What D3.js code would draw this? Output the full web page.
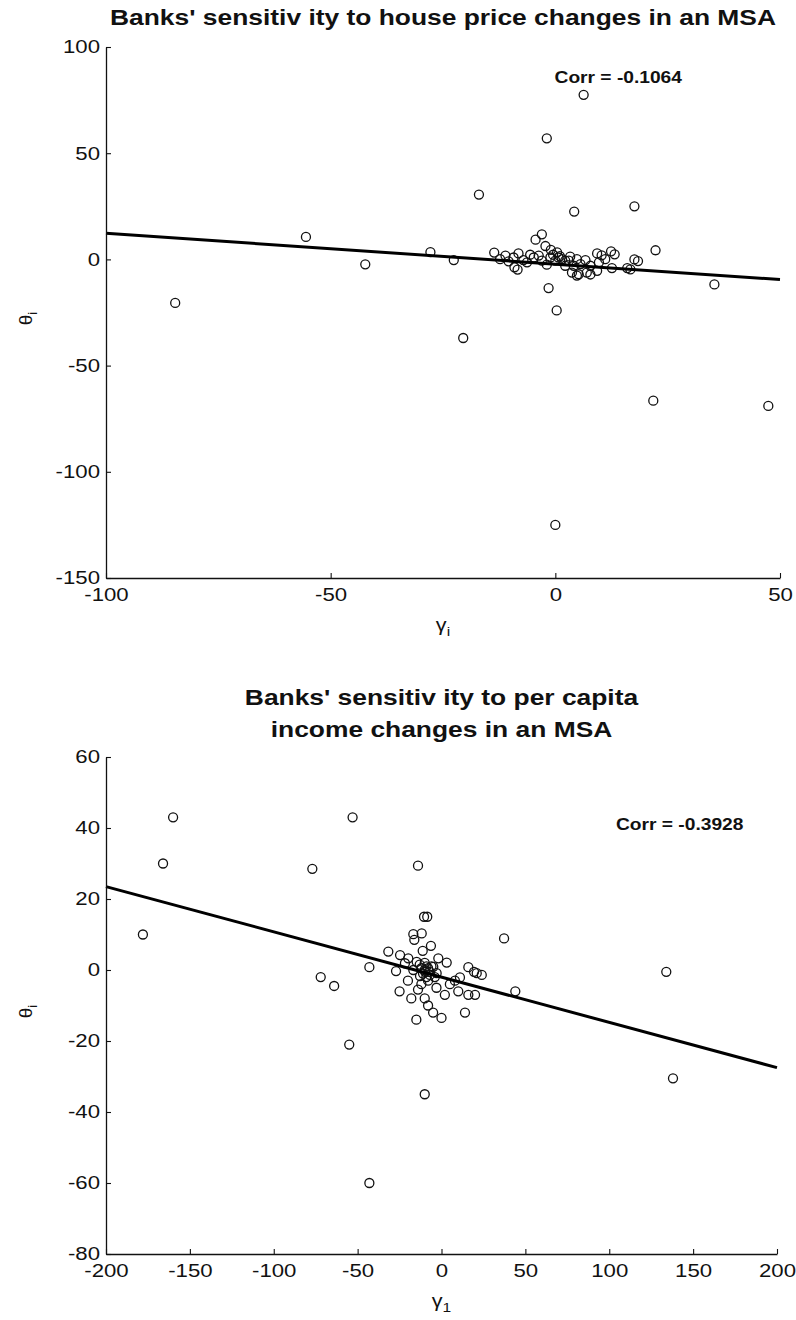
<!DOCTYPE html>
<html>
<head>
<meta charset="utf-8">
<script src="https://cdn.jsdelivr.net/npm/d3@7"></script>
<style>
  body { margin: 0; background: #fff; }
  svg text { font-family: "Liberation Sans", Arial, sans-serif; fill: #111; }
</style>
</head>
<body>
<svg id="fig" width="796" height="1320"></svg>
<script>
// ---- top panel: sensitivity to house price changes ----
const houseGamma = [6.3, -1.9, -17, 4.2, 17.6, -55.5, -42.3, -27.8, -22.6, -84.6, -20.5, 0.3, 21.8, 47.4, 0, 35.4, 22.3, -1.5,
  -13.6, -3.0, -4.4, -2.2, -9.1, -8.4, -0.5, -11.1, -8.2, -6.3, -4.8, -1.9, 0.4, 1.5, 3.3, 3.7, 5.2, 7.0, 6.7, 9.3, 9.7, 9.3,
  12.4, 12.6, 16.0, 17.6, 13.2, 10.3, 18.4, 16.7, 4.8, 7.8, -1.1, 0.0, 0.7, 2.2, -3.0, -3.7, -5.6, -7.1, -9.3, -10.4, -12.3,
  2.2, 4.1, 3.0, 4.8, 5.6, 7.8, 11.1, -1.0, 1.0];
const houseTheta = [77.5, 57, 30.5, 22.5, 25, 10.6, -2.3, 3.4, -0.3, -20.5, -37, -24, -66.5, -69, -125, -11.8, 4.3, -13.5,
  3.2, 11.8, 9.3, 6.3, -3.7, -4.8, 2.2, 1.8, 2.8, -1.4, 0.9, -2.5, 3.3, 0.1, 1.3, -6.2, -7.0, -6.2, -0.3, 2.8, -1.4, -5.4,
  3.8, -4.1, -4.1, 0.0, 2.4, 1.9, -0.8, -4.7, -7.6, -7.1, 0.9, -0.6, 0.9, -0.6, -0.6, 1.8, 2.2, -0.3, 0.9, -0.9, 0.1,
  -3.0, -3.0, -0.6, 0.1, -2.2, -3.0, 0.1, 4.5, 1.5];
const houseFitGamma = [-100, 50];
const houseFitTheta = [12.3, -9.5];
const houseXTicks = [-100, -50, 0, 50];
const houseYTicks = [-150, -100, -50, 0, 50, 100];

// ---- bottom panel: sensitivity to per capita income changes ----
const incomeGamma = [-178, -166, -160, -77, -53, -14, -10.4, -8.5, 37.3, -72, -64, -43, -55, -43, -10, 44, 134, 138,
  -16.8, -16.2, -11.8, -6.3, -11.2, -31.7, -24.7, -19.8, -27.1, -1.9, 3.1, 16.0, 19.4, 24.0, 21.0, 11.0, -4.9, -14.8,
  -21.8, -16.8, -9.8, -6.9, -12.8, -2.9,
  -15, 0, 14, 16, 20, -5, -8, -10, -18, -25, -3, -12, 5, -20, 8, -8, -4, -14, 2, 10,
  -10, -9, -11, -8, -12, -7, -9, -13, -6, -10];
const incomeTheta = [10, 30, 43, 28.5, 43, 29.4, 15, 15, 8.9, -2, -4.5, 0.8, -21, -60, -35, -6, -0.5, -30.5,
  10.1, 8.5, 10.3, 6.8, 5.4, 5.2, 4.2, 3.3, -0.3, 3.3, 2.1, 0.8, -0.5, -1.4, -0.9, -2.1, 0.9, 2.3,
  1.9, 0.0, -0.5, -1.4, -1.7, -0.9,
  -14, -13.5, -12, -7, -7, -12, -10, -8, -8, -6, -5, -4, -4, -3, -3, -3, -2, -5.5, -7, -6,
  0, 1, -1, 0.5, 0.5, -0.5, -2, 1.5, 1, 2];
const incomeFitGamma = [-200, 200];
const incomeFitTheta = [23.5, -27.5];
const incomeXTicks = [-200, -150, -100, -50, 0, 50, 100, 150, 200];
const incomeYTicks = [-80, -60, -40, -20, 0, 20, 40, 60];

// the scanned figure is stretched sideways, text gets the same stretch
const SX = 1.2;
const svg = d3.select("#fig");

function stretchedText(sel, x, y, str, size, weight) {
  return sel.append("text")
    .attr("transform", `translate(${x},${y}) scale(${SX},1)`)
    .attr("text-anchor", "middle")
    .style("font-size", size + "px")
    .style("font-weight", weight || "normal")
    .text(str);
}

function drawPanel(p) {
  const x = d3.scaleLinear().domain(p.xDomain).range([p.left, p.right]);
  const y = d3.scaleLinear().domain(p.yDomain).range([p.bottom, p.top]);
  const g = svg.append("g");

  // scatter
  g.append("g").selectAll("circle")
    .data(d3.zip(p.gamma, p.theta))
    .join("circle")
    .attr("cx", d => x(d[0]))
    .attr("cy", d => y(d[1]))
    .attr("r", 4.5)
    .attr("fill", "none")
    .attr("stroke", "#111")
    .attr("stroke-width", 1.3);

  // fitted line
  g.append("path")
    .datum(d3.zip(p.fitGamma, p.fitTheta))
    .attr("d", d3.line().x(d => x(d[0])).y(d => y(d[1])))
    .attr("stroke", "#000")
    .attr("stroke-width", 3)
    .attr("fill", "none");

  // axes (ticks point inwards like matlab, plain hyphen for negatives)
  const fmt = d => String(d);
  const xAxis = g.append("g")
    .attr("transform", `translate(0,${p.bottom})`)
    .call(d3.axisBottom(x).tickValues(p.xTicks).tickFormat(fmt)
      .tickSizeInner(-5).tickSizeOuter(0).tickPadding(10));
  const yAxis = g.append("g")
    .attr("transform", `translate(${p.left},0)`)
    .call(d3.axisLeft(y).tickValues(p.yTicks).tickFormat(fmt)
      .tickSizeInner(-5).tickSizeOuter(0).tickPadding(5));

  [xAxis, yAxis].forEach(a => {
    a.attr("font-family", null).attr("font-size", null).style("color", "#111");
    a.select(".domain").attr("stroke-width", 1.3);
    a.selectAll(".tick line").attr("stroke-width", 1.1);
    a.selectAll(".tick text")
      .style("font-size", "18.5px")
      .attr("transform", `scale(${SX},1)`);
  });

  // titles and labels
  p.title.forEach((line, i) => {
    stretchedText(g, (p.left + p.right) / 2, p.titleY + i * 32, line, 22, "bold");
  });
  stretchedText(g, x(p.corrAt[0]), y(p.corrAt[1]) + 6, p.corr, 16, "bold");

  const xl = g.append("text")
    .attr("transform", `translate(${(p.left + p.right) / 2},${p.bottom + 53}) scale(${SX},1)`)
    .attr("text-anchor", "middle")
    .style("font-size", "18px");
  xl.append("tspan").text("γ");
  xl.append("tspan").attr("dy", 5).style("font-size", "13px").text(p.xSub);

  const yl = g.append("text")
    .attr("transform", `translate(32,${(p.top + p.bottom) / 2 + 6}) rotate(-90)`)
    .attr("text-anchor", "middle")
    .style("font-size", "19px");
  yl.append("tspan").text("θ");
  yl.append("tspan").attr("dy", 5).style("font-size", "13px").text("i");
}

drawPanel({
  gamma: houseGamma, theta: houseTheta,
  fitGamma: houseFitGamma, fitTheta: houseFitTheta,
  xDomain: [-100, 50], yDomain: [-150, 100],
  xTicks: houseXTicks, yTicks: houseYTicks,
  left: 106, right: 780, top: 47, bottom: 578,
  title: ["Banks' sensitiv ity to house price changes in an MSA"], titleY: 25,
  corr: "Corr = -0.1064", corrAt: [14, 86],
  xSub: "i"
});

drawPanel({
  gamma: incomeGamma, theta: incomeTheta,
  fitGamma: incomeFitGamma, fitTheta: incomeFitTheta,
  xDomain: [-200, 200], yDomain: [-80, 60],
  xTicks: incomeXTicks, yTicks: incomeYTicks,
  left: 106, right: 777, top: 757, bottom: 1254,
  title: ["Banks' sensitiv ity to per capita", "income changes in an MSA"], titleY: 705,
  corr: "Corr = -0.3928", corrAt: [142, 41],
  xSub: "1"
});
</script>
</body>
</html>
